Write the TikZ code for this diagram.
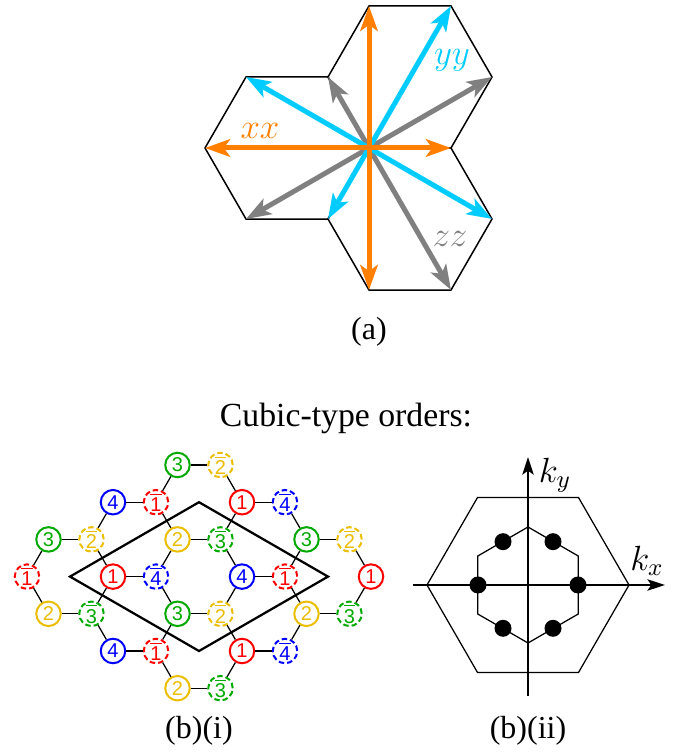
\RequirePackage{fix-cm}
\documentclass[tikz,border=0pt]{standalone}
\usepackage{fontspec}
\setmainfont{Liberation Serif}
\newfontfamily\numfont{Liberation Sans}
\usetikzlibrary{arrows.meta,calc}
\definecolor{xxorange}{RGB}{255,127,0}
\definecolor{yycyan}{RGB}{0,204,255}
\definecolor{zzgray}{RGB}{128,128,128}
\definecolor{sitered}{RGB}{255,0,0}
\definecolor{sitegreen}{RGB}{0,170,0}
\definecolor{siteblue}{RGB}{0,0,255}
\definecolor{siteyellow}{RGB}{235,190,0}
\newcommand{\barnum}[1]{$\overline{\mbox{#1}}$}
\tikzset{
  hexline/.style={line width=0.6pt},
  harr/.style={-{Stealth[length=10pt,width=7pt,inset=2.5pt]}, line width=2pt},
  site/.style={circle, draw, fill=white, line width=0.8pt, minimum size=9.8pt, inner sep=0pt,
               font=\numfont\fontsize{8}{8}\selectfont},
  dashring/.style={dash pattern=on 2.2pt off 1.2pt},
  redsite/.style={site, draw=sitered, text=sitered},
  greensite/.style={site, draw=sitegreen, text=sitegreen},
  bluesite/.style={site, draw=siteblue, text=siteblue},
  yellowsite/.style={site, draw=siteyellow, text=siteyellow},
  redbar/.style={redsite, dashring},
  greenbar/.style={greensite, dashring},
  bluebar/.style={bluesite, dashring},
  yellowbar/.style={yellowsite, dashring},
  bond/.style={line width=0.5pt},
  cell/.style={line width=0.9pt},
  bzone/.style={line width=0.5pt},
  kaxis/.style={-{Stealth[length=7pt,width=4.5pt,inset=1.5pt]}, line width=1pt},
  lab/.style={font=\fontsize{14}{16}\selectfont},
  captext/.style={font=\fontsize{12.8}{15}\selectfont},
}
\begin{document}
\begin{tikzpicture}[x=0.4pt, y=0.4pt]
  \useasboundingbox (0,0) rectangle (684,752);
  % (a) three hexagons round one corner
  \coordinate (c) at (369,604);
  \draw[hexline] (c) ++(60:82) +(0:82) -- +(60:82) -- +(120:82) -- +(180:82) -- +(240:82) -- +(300:82) -- cycle;
  \draw[hexline] (c) ++(180:82) +(0:82) -- +(60:82) -- +(120:82) -- +(180:82) -- +(240:82) -- +(300:82) -- cycle;
  \draw[hexline] (c) ++(300:82) +(0:82) -- +(60:82) -- +(120:82) -- +(180:82) -- +(240:82) -- +(300:82) -- cycle;
  \coordinate (xxup) at ($(c)+(90:142)$);  \coordinate (xxdn) at ($(c)+(270:142)$);
  \coordinate (xxlt) at ($(c)+(180:164)$); \coordinate (xxrt) at ($(c)+(0:82)$);
  \coordinate (yyup) at ($(c)+(60:164)$);  \coordinate (yylt) at ($(c)+(150:142)$);
  \coordinate (yyrt) at ($(c)+(330:142)$); \coordinate (yydn) at ($(c)+(240:82)$);
  \coordinate (zzrt) at ($(c)+(30:142)$);  \coordinate (zzlt) at ($(c)+(210:142)$);
  \coordinate (zzdn) at ($(c)+(300:164)$); \coordinate (zzup) at ($(c)+(120:82)$);
  \draw[harr, zzgray] (c) -- (zzrt); \draw[harr, zzgray] (c) -- (zzlt);
  \draw[harr, zzgray] (c) -- (zzdn); \draw[harr, zzgray] (c) -- (zzup);
  \draw[harr, yycyan] (c) -- (yyup); \draw[harr, yycyan] (c) -- (yylt);
  \draw[harr, yycyan] (c) -- (yyrt); \draw[harr, yycyan] (c) -- (yydn);
  \draw[harr, xxorange] (c) -- (xxup); \draw[harr, xxorange] (c) -- (xxdn);
  \draw[harr, xxorange] (c) -- (xxlt); \draw[harr, xxorange] (c) -- (xxrt);
  \node[lab, text=xxorange] (xxlab) at (260,621) {$xx$};
  \node[lab, text=yycyan] (yylab) at (452,692) {$yy$};
  \node[lab, text=zzgray] (zzlab) at (450,513) {$zz$};
  \node[captext] (capa) at (369,420) {(a)};
  \node[captext, font=\fontsize{13.5}{16}\selectfont] (title) at (346,334) {Cubic-type orders:};
  % (b)(i) honeycomb, x in half bonds, y in rows
  \begin{scope}[shift={(27,287)}, x=8.6pt, y=-14.88pt]
    \draw[cell] (2,3) -- (8,1) -- (14,3) -- (8,5) -- cycle;
    \node[greensite] (v7-0) at (7,0) {3};  \node[yellowbar] (v9-0) at (9,0) {\barnum{2}};
    \node[bluesite] (v4-1) at (4,1) {4};   \node[redbar] (v6-1) at (6,1) {\barnum{1}};
    \node[redsite] (v10-1) at (10,1) {1};  \node[bluebar] (v12-1) at (12,1) {\barnum{4}};
    \node[greensite] (v1-2) at (1,2) {3};  \node[yellowbar] (v3-2) at (3,2) {\barnum{2}};
    \node[yellowsite] (v7-2) at (7,2) {2}; \node[greenbar] (v9-2) at (9,2) {\barnum{3}};
    \node[greensite] (v13-2) at (13,2) {3}; \node[yellowbar] (v15-2) at (15,2) {\barnum{2}};
    \node[redbar] (v0-3) at (0,3) {\barnum{1}};
    \node[redsite] (v4-3) at (4,3) {1};    \node[bluebar] (v6-3) at (6,3) {\barnum{4}};
    \node[bluesite] (v10-3) at (10,3) {4}; \node[redbar] (v12-3) at (12,3) {\barnum{1}};
    \node[redsite] (v16-3) at (16,3) {1};
    \node[yellowsite] (v1-4) at (1,4) {2}; \node[greenbar] (v3-4) at (3,4) {\barnum{3}};
    \node[greensite] (v7-4) at (7,4) {3};  \node[yellowbar] (v9-4) at (9,4) {\barnum{2}};
    \node[yellowsite] (v13-4) at (13,4) {2}; \node[greenbar] (v15-4) at (15,4) {\barnum{3}};
    \node[bluesite] (v4-5) at (4,5) {4};   \node[redbar] (v6-5) at (6,5) {\barnum{1}};
    \node[redsite] (v10-5) at (10,5) {1};  \node[bluebar] (v12-5) at (12,5) {\barnum{4}};
    \node[yellowsite] (v7-6) at (7,6) {2}; \node[greenbar] (v9-6) at (9,6) {\barnum{3}};
    % bonds
    \draw[bond] (v7-0)--(v9-0); \draw[bond] (v4-1)--(v6-1); \draw[bond] (v10-1)--(v12-1);
    \draw[bond] (v1-2)--(v3-2); \draw[bond] (v7-2)--(v9-2); \draw[bond] (v13-2)--(v15-2);
    \draw[bond] (v4-3)--(v6-3); \draw[bond] (v10-3)--(v12-3);
    \draw[bond] (v1-4)--(v3-4); \draw[bond] (v7-4)--(v9-4); \draw[bond] (v13-4)--(v15-4);
    \draw[bond] (v4-5)--(v6-5); \draw[bond] (v10-5)--(v12-5); \draw[bond] (v7-6)--(v9-6);
    \draw[bond] (v7-0)--(v6-1); \draw[bond] (v9-0)--(v10-1);
    \draw[bond] (v4-1)--(v3-2); \draw[bond] (v6-1)--(v7-2); \draw[bond] (v10-1)--(v9-2); \draw[bond] (v12-1)--(v13-2);
    \draw[bond] (v1-2)--(v0-3); \draw[bond] (v3-2)--(v4-3); \draw[bond] (v7-2)--(v6-3);
    \draw[bond] (v9-2)--(v10-3); \draw[bond] (v13-2)--(v12-3); \draw[bond] (v15-2)--(v16-3);
    \draw[bond] (v0-3)--(v1-4); \draw[bond] (v4-3)--(v3-4); \draw[bond] (v6-3)--(v7-4);
    \draw[bond] (v10-3)--(v9-4); \draw[bond] (v12-3)--(v13-4); \draw[bond] (v16-3)--(v15-4);
    \draw[bond] (v3-4)--(v4-5); \draw[bond] (v7-4)--(v6-5); \draw[bond] (v9-4)--(v10-5); \draw[bond] (v13-4)--(v12-5);
    \draw[bond] (v6-5)--(v7-6); \draw[bond] (v10-5)--(v9-6);
  \end{scope}
  \node[captext] (capbi) at (199,21) {(b)(i)};
  % (b)(ii) Brillouin zone
  \coordinate (o) at (528,167);
  \draw[bzone] (o) +(0:101) -- +(60:101) -- +(120:101) -- +(180:101) -- +(240:101) -- +(300:101) -- cycle;
  \draw[bzone] (o) +(30:58) -- +(90:58) -- +(150:58) -- +(210:58) -- +(270:58) -- +(330:58) -- cycle;
  \coordinate (kxs) at (413,167); \coordinate (kxe) at (665,167);
  \coordinate (kys) at (528,56);  \coordinate (kye) at (528,295);
  \draw[kaxis] (kxs) -- (kxe); \draw[kaxis] (kys) -- (kye);
  \fill (o) +(0:50) circle (8.5);   \fill (o) +(60:50) circle (8.5);
  \fill (o) +(120:50) circle (8.5); \fill (o) +(180:50) circle (8.5);
  \fill (o) +(240:50) circle (8.5); \fill (o) +(300:50) circle (8.5);
  \node[lab] (kx) at (647,191) {$k_x$};
  \node[lab] (ky) at (555,277) {$k_y$};
  \node[captext] (capbii) at (528,21) {(b)(ii)};
\end{tikzpicture}
\end{document}
